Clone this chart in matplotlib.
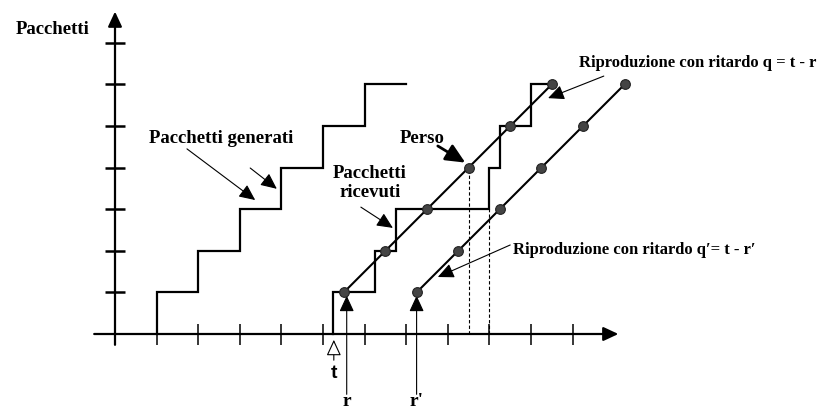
import numpy as np
import matplotlib
matplotlib.use("Agg")
from matplotlib import pyplot as plt

# packet counts (y levels) and times (x ticks)
levels = [1, 2, 3, 4, 5, 6]
gen_times = [1, 2, 3, 4, 5, 6]
gen_end = 7
recv_times = [5.25, 6.25, 6.75, 9.0, 9.25, 10.0]
recv_end = 10.5
play_q = [5.5, 6.5, 7.5, 8.5, 9.5, 10.5]
play_q2 = [7.25, 8.25, 9.25, 10.25, 11.25, 12.25]
lost_index = 3
x_ticks = list(range(1, 12))
y_ticks = list(range(1, 8))

SERIF = "Liberation Serif"
SANS = "Liberation Sans"


def staircase(ax, times, end, lv):
    xs = [times[0]] + list(times) + [end]
    ys = [0] + list(lv) + [lv[-1]]
    ax.step(xs, ys, where="post", color="black", lw=1.6, solid_joinstyle="miter")


def arrow(ax, start, end, lw=0.8, scale=15, open_head=False):
    ax.annotate("", xy=end, xytext=start,
                arrowprops=dict(arrowstyle="-|>,head_length=0.65,head_width=0.3",
                                lw=lw, color="black",
                                fc="white" if open_head else "black",
                                mutation_scale=scale, shrinkA=0, shrinkB=0))


fig = plt.figure(figsize=(8.22, 4.11), dpi=100)
ax = fig.add_axes([0, 0, 1, 1])
u = 41.6
ax.set_xlim(-115 / u, (822 - 115) / u)
ax.set_ylim(-(411 - 334) / u, 334 / u)
ax.axis("off")

# axes with arrows
ax.annotate("", xy=(12.1, 0), xytext=(-0.5, 0),
            arrowprops=dict(arrowstyle="-|>,head_length=0.75,head_width=0.35",
                            lw=1.6, color="black", mutation_scale=12,
                            shrinkA=0, shrinkB=0))
ax.annotate("", xy=(0, 7.75), xytext=(0, -0.26),
            arrowprops=dict(arrowstyle="-|>,head_length=0.75,head_width=0.35",
                            lw=1.6, color="black", mutation_scale=12,
                            shrinkA=0, shrinkB=0))
ax.vlines(x_ticks, -0.26, 0.24, color="black", lw=1.1)
ax.hlines(y_ticks, -0.24, 0.24, color="black", lw=1.8)

# generated and received packets
staircase(ax, gen_times, gen_end, levels)
staircase(ax, recv_times, recv_end, levels)

# dashed guides
ax.vlines(play_q[lost_index], 0, levels[lost_index], color="black", lw=0.8,
          linestyles=(0, (3, 2)))
ax.vlines(recv_times[lost_index], 0, levels[lost_index - 1], color="black", lw=0.8,
          linestyles=(0, (3, 2)))

# playout lines
for pts in (play_q, play_q2):
    ax.plot(pts, levels, color="black", lw=1.5, zorder=3)
    ax.plot(pts, levels, "o", ms=7, mfc="#444444", mec="#222222", mew=0.8, zorder=4)

# texts
tk = dict(fontfamily=SERIF, fontweight="bold", ha="center", va="center")
ax.text(-1.51, 7.31, "Pacchetti", fontsize=13.5, **tk)
ax.text(2.55, 4.71, "Pacchetti generati", fontsize=13.5, **tk)
arrow(ax, (1.73, 4.45), (3.37, 3.22))
arrow(ax, (3.25, 3.99), (3.89, 3.49))
ax.text(6.13, 3.63, "Pacchetti\nricevuti", fontsize=13.5, linespacing=1.2, **tk)
arrow(ax, (5.91, 3.05), (6.68, 2.55))
ax.text(7.38, 4.69, "Perso", fontsize=13.5, **tk)
arrow(ax, (7.76, 4.52), (8.42, 4.12), lw=2.0, scale=18)

tl = dict(fontfamily=SERIF, fontweight="bold", ha="left", va="center", fontsize=12)
ax.text(11.15, 6.51, "Riproduzione con ritardo q = t - r", **tl)
arrow(ax, (11.75, 6.20), (10.41, 5.67))
ax.text(9.57, 2.02, "Riproduzione con ritardo q\u2032= t - r\u2032", **tl)
arrow(ax, (9.50, 2.14), (7.76, 1.37))

# t, r, r' markers
t0 = recv_times[0]
arrow(ax, (t0 + 0.01, -0.63), (t0 + 0.01, -0.14), lw=0.8, open_head=True)
ax.text(t0 + 0.01, -0.96, "t", fontfamily=SANS, fontweight="bold", fontsize=14,
        ha="center", va="center")
for px, lab in ((play_q[0] + 0.07, "r"), (play_q2[0], "r'")):
    arrow(ax, (px, -1.45), (px, 0.92))
    ax.text(px, -1.83, lab, fontfamily=SERIF, fontweight="bold", fontsize=14,
            ha="center", va="bottom")

fig.savefig("out.png", dpi=100)
